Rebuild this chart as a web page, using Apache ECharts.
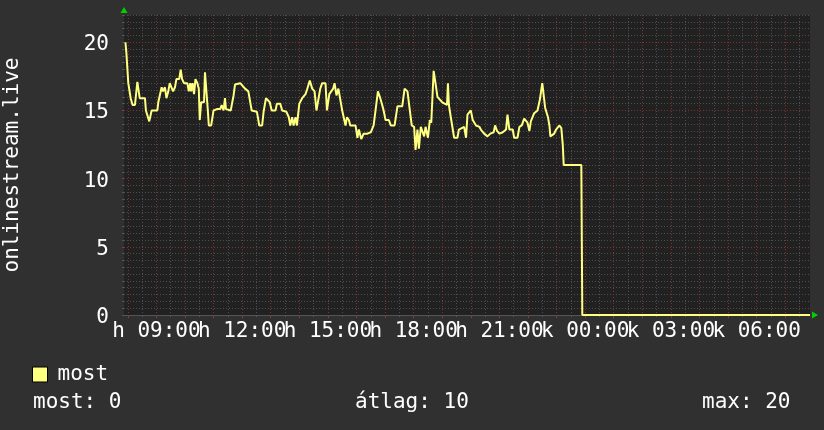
<!DOCTYPE html>
<html><head><meta charset="utf-8">
<script src="https://cdn.jsdelivr.net/npm/echarts@6/dist/echarts.min.js"></script>
<style>html,body{margin:0;padding:0;background:#303030}#c{width:824px;height:430px}</style>
</head><body><div id="c"></div>
<script>
const seriesName = 'most';
const yAxisTitle = 'onlinestream.live';
const axisStart = '07:52';
const axisEnd = '07:52';
const times = ['07:55','07:57','07:59','08:01','08:06','08:10','08:15','08:20','08:24','08:25','08:36','08:38','08:45','08:48','08:50','09:02','09:04','09:11','09:14','09:18','09:21','09:25','09:28','09:32','09:35','09:39','09:42','09:48','09:51','09:54','09:58','10:05','10:08','10:11','10:13','10:16','10:19','10:22','10:26','10:29','10:31','10:34','10:40','10:42','10:46','10:48','10:50','10:55','11:00','11:03','11:07','11:14','11:17','11:21','11:24','11:26','11:36','11:42','11:45','11:56','11:59','12:06','12:13','12:17','12:20','12:31','12:36','12:42','12:45','12:50','12:53','12:58','13:02','13:10','13:13','13:20','13:24','13:33','13:38','13:41','13:45','13:48','13:52','13:55','14:00','14:06','14:13','14:16','14:22','14:27','14:32','14:36','14:40','14:44','14:48','14:55','14:58','15:03','15:07','15:11','15:14','15:18','15:22','15:26','15:30','15:37','15:40','15:44','15:47','15:58','16:02','16:05','16:10','16:15','16:23','16:30','16:36','16:40','16:45','16:49','16:54','16:57','17:01','17:08','17:12','17:20','17:26','17:36','17:41','17:47','17:52','17:56','18:01','18:04','18:08','18:11','18:15','18:18','18:22','18:25','18:30','18:34','18:37','18:42','18:45','18:50','18:55','19:00','19:05','19:10','19:12','19:14','19:18','19:25','19:32','19:35','19:46','19:50','19:53','20:00','20:04','20:11','20:18','20:21','20:28','20:35','20:41','20:48','20:51','20:55','21:00','21:07','21:14','21:17','21:21','21:28','21:31','21:38','21:42','21:47','21:52','21:56','21:59','22:03','22:06','22:13','22:20','22:25','22:30','22:32','22:36','22:42','22:45','22:47','22:55','22:59','23:06','23:10','23:13','23:15','23:52','23:54','07:52'];
const values = [20.0,19.2,19.2,17.0,15.9,15.4,15.4,17.1,17.1,15.9,15.9,15.0,14.2,14.2,15.0,15.0,15.6,16.7,16.4,16.7,15.9,16.4,17.0,17.0,16.4,16.7,17.3,17.3,18.0,17.3,17.0,17.0,16.4,17.0,16.4,17.0,16.2,17.3,17.0,16.6,14.3,15.6,15.6,17.8,17.8,15.0,13.9,13.9,15.0,14.9,15.1,15.1,15.4,15.0,15.9,15.1,15.0,16.1,16.9,17.0,16.9,16.6,16.4,15.6,15.0,14.9,13.9,13.9,14.9,15.9,15.9,15.6,15.0,15.0,15.5,15.5,15.0,14.9,14.5,13.9,14.5,13.9,14.5,13.9,15.5,15.9,16.2,16.5,17.2,16.6,16.4,15.0,15.0,16.6,17.0,17.0,15.0,16.2,16.1,16.6,17.0,16.1,16.6,16.5,15.0,13.9,14.5,14.3,13.9,13.9,13.0,13.6,12.9,13.3,13.3,13.4,13.9,15.0,16.4,16.0,15.4,15.0,14.3,14.3,13.9,13.9,15.3,15.3,16.6,16.4,15.0,13.9,13.8,12.1,13.6,12.2,13.8,13.9,13.1,13.8,13.0,14.3,14.1,17.9,17.2,16.0,15.8,15.6,15.5,15.4,17.0,15.4,14.5,13.0,13.0,13.6,13.8,13.0,14.7,15.0,14.3,13.9,13.8,13.6,13.3,13.1,13.3,13.4,13.9,13.5,13.3,13.4,13.6,14.7,13.6,13.6,13.0,13.0,13.8,13.9,14.4,14.5,14.1,13.5,14.2,14.8,15.0,15.8,17.0,17.1,15.2,14.5,13.9,13.1,13.3,13.6,13.9,13.7,12.5,11.0,11.0,0,0];
const xLabelTimes = ['09:00','12:00','15:00','18:00','21:00','00:00','03:00','06:00'];
const xLabelDays = ['h','h','h','h','h','k','k','k'];
const yTicks = [0,5,10,15,20];
const yMax = 22;
const statLabels = ['most:','átlag:','max:'];
const statValues = [0,10,20];

const FONT = '"DejaVu Sans Mono", monospace';
const toMin = s => { const p = s.split(':'); return (+p[0]) * 60 + (+p[1]); };
const startMin = toMin(axisStart);
const endMin = toMin(axisEnd) + 1440;
const absMin = s => { let m = toMin(s); if (m < startMin) m += 1440; return m; };

const data = [];
let prev = -1, dayAdd = 0;
times.forEach((t, i) => {
  let m = toMin(t) + dayAdd;
  if (m < prev) { dayAdd += 1440; m += 1440; }
  prev = m;
  data.push([m, values[i]]);
});

const labelVals = xLabelTimes.map(absMin);
// labels split over two axes so neighbouring (overlapping) labels are not auto-hidden
const labelValsA = labelVals.filter((v, i) => i % 2 === 0);
const labelValsB = labelVals.filter((v, i) => i % 2 === 1);
const fmtX = v => { const i = labelVals.indexOf(v); return i < 0 ? '' : xLabelDays[i] + ' ' + xLabelTimes[i]; };
const hourTicks = [], halfTicks = [];
for (let m = Math.ceil(startMin / 60) * 60; m <= endMin; m += 60) hourTicks.push(m);
for (let m = Math.ceil((startMin - 30) / 60) * 60 + 30; m <= endMin; m += 60) if (m >= startMin) halfTicks.push(m);
const yMinor = [];
for (let v = 0.5; v <= yMax + 1e-9; v += 0.5) if (Math.abs(v / 5 - Math.round(v / 5)) > 1e-9) yMinor.push(v);

const MAJ = '#7a3434', MIN = '#4e4e4e', ARROW = '#00d000';
const xLabelStyle = { color: '#fff', fontFamily: FONT, fontSize: 21, margin: 6, showMinLabel: true, showMaxLabel: true, formatter: fmtX };
const chart = echarts.init(document.getElementById('c'));
chart.setOption({
  backgroundColor: '#303030',
  animation: false,
  grid: { left: 124, right: 14, top: 15, bottom: 115, show: true, backgroundColor: '#212121', borderWidth: 0, containLabel: false, outerBoundsMode: 'none' },
  legend: {
    data: [seriesName], left: 32, top: 364, padding: 0, icon: 'rect', itemWidth: 15, itemHeight: 15,
    itemStyle: { borderColor: '#000', borderWidth: 1 },
    textStyle: { color: '#fff', fontFamily: FONT, fontSize: 21, padding: [0, 0, 0, 5] }
  },
  xAxis: [
    {
      type: 'value', min: startMin, max: endMin, position: 'bottom', z: 1,
      axisLine: { show: true, onZero: false, lineStyle: { color: '#555', width: 1 } },
      axisTick: { show: true, customValues: hourTicks, length: 3, lineStyle: { color: '#8a3a3a' } },
      axisLabel: Object.assign({ customValues: labelValsA }, xLabelStyle),
      splitLine: { show: true, lineStyle: { color: MAJ, type: [1, 2], width: 1 } }
    },
    {
      type: 'value', min: startMin, max: endMin, position: 'bottom', z: 0,
      axisLine: { show: true, onZero: false, symbol: ['none', 'triangle'], symbolSize: [7, 6], symbolOffset: [0, 5], lineStyle: { color: ARROW, opacity: 0 } },
      axisTick: { show: true, customValues: halfTicks, length: 2, lineStyle: { color: '#555' } },
      axisLabel: Object.assign({ customValues: labelValsB }, xLabelStyle),
      splitLine: { show: true, lineStyle: { color: MIN, type: [1, 2], width: 1 } }
    }
  ],
  yAxis: [
    {
      type: 'value', min: 0, max: yMax, position: 'left', z: 1,
      name: yAxisTitle, nameLocation: 'middle', nameRotate: 90, nameGap: 101,
      nameTextStyle: { color: '#fff', fontFamily: FONT, fontSize: 21 },
      axisLine: { show: false },
      axisTick: { show: true, customValues: yTicks, length: 2, lineStyle: { color: '#8a3a3a' } },
      axisLabel: {
        customValues: yTicks, margin: 15, showMinLabel: true, showMaxLabel: true,
        formatter: v => '{v|' + v + '}',
        rich: { v: { color: '#fff', fontFamily: FONT, fontSize: 21, padding: [5, 0, 0, 0] } }
      },
      splitLine: { show: true, lineStyle: { color: MAJ, type: [1, 2], width: 1 } }
    },
    {
      type: 'value', min: 0, max: yMax, position: 'left', z: 0,
      axisLine: { show: true, onZero: false, symbol: ['none', 'triangle'], symbolSize: [7, 6], symbolOffset: [0, 5], lineStyle: { color: ARROW, opacity: 0 } },
      axisTick: { show: true, customValues: yMinor, length: 2, lineStyle: { color: '#555' } },
      axisLabel: { show: false },
      splitLine: { show: true, lineStyle: { color: MIN, type: [1, 2], width: 1 } }
    }
  ],
  series: [{
    name: seriesName, type: 'line', data: data, xAxisIndex: 0, yAxisIndex: 0,
    showSymbol: false, symbol: 'none', color: '#ffff80',
    lineStyle: { color: '#ffff80', width: 2 }, z: 5
  }],
  graphic: statLabels.map((s, i) => ({
    type: 'text', left: [33, 355, 702][i], top: 392,
    style: { text: s + ' ' + statValues[i], fill: '#fff', font: '21px ' + FONT }
  }))
});
</script>
</body></html>
